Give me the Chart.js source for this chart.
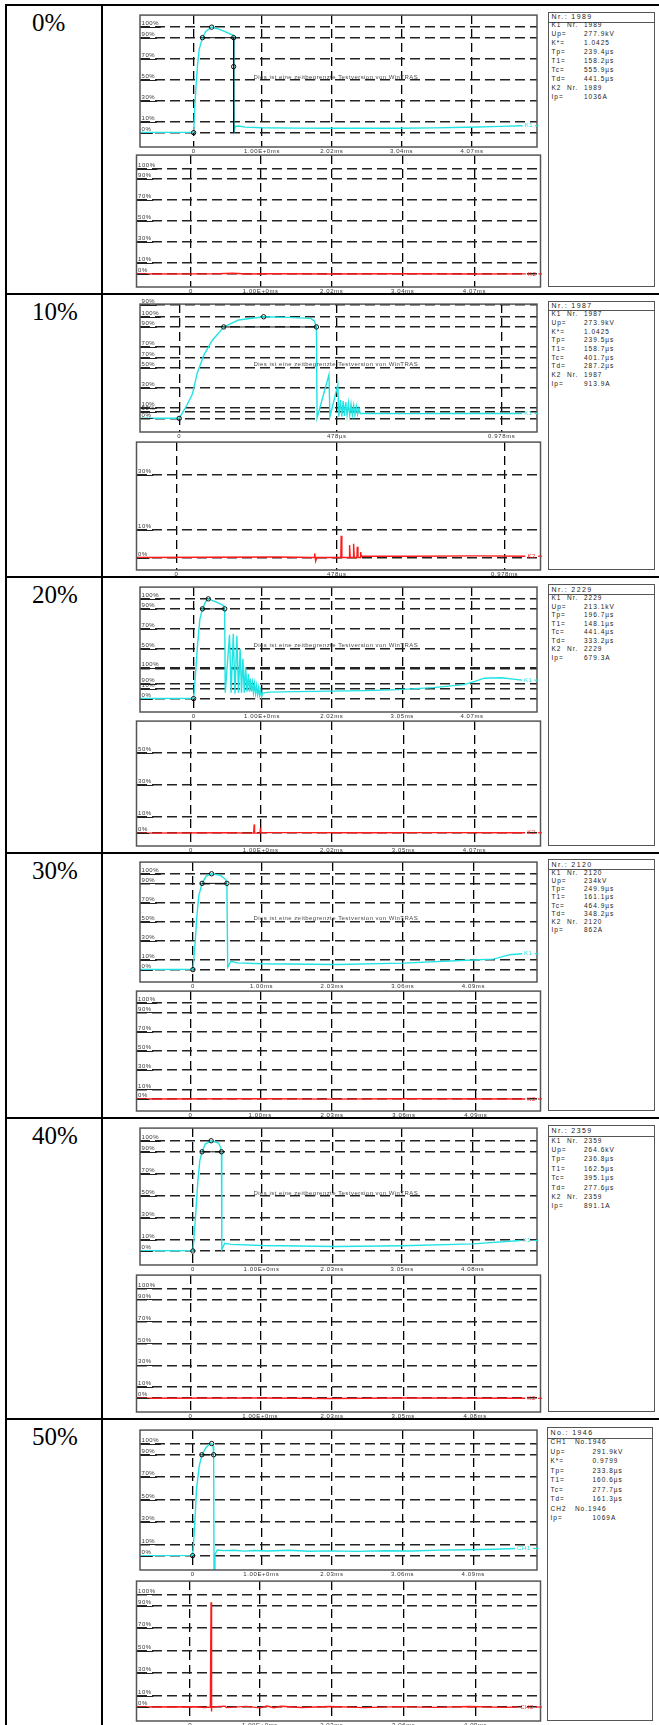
<!DOCTYPE html>
<html>
<head>
<meta charset="utf-8">
<script src="https://cdn.jsdelivr.net/npm/chart.js@4.4.0/dist/chart.umd.min.js"></script>
<style>
  @font-face { font-family: "RowSerif"; src: local("Liberation Serif"), local("LiberationSerif"), local("LiberationSerif-Regular"), local("Times New Roman"), local("DejaVu Serif"), local("DejaVuSerif"); }
  html, body { margin: 0; padding: 0; background: #fff; }
  body { width: 659px; height: 1725px; overflow: hidden; position: relative; font-family: "Liberation Sans", Arimo, Arial, Helvetica, sans-serif; }
  .hline { position: absolute; left: 5px; width: 660px; height: 2px; background: #000; }
  .vline { position: absolute; top: 4px; width: 2px; height: 1730px; background: #000; }
  .pct { position: absolute; left: 32px; font-family: "Liberation Serif", RowSerif, "Times New Roman", Tinos, Times, "DejaVu Serif", serif; font-size: 25px; line-height: 25px; color: #000; }
  .plot { position: absolute; left: 135px; }
  .box { position: absolute; border: 1px solid #555; box-sizing: border-box; color: #222; }
  .box .hd { position: absolute; left: 0; right: 0; top: 0; border-bottom: 1px solid #555; font-size: 7px; letter-spacing: 1.4px; padding-left: 2.5px; white-space: pre; }
  .box .ln { position: absolute; white-space: pre; font-size: 6.5px; letter-spacing: 1px; }
</style>
</head>
<body>
<script>
// ---- data (time in ms, level in % of the channel scale) ----
const rowNames = ['0%', '10%', '20%', '30%', '40%', '50%'];

const pctGrid = [100, 90, 70, 50, 30, 10, 0];
const pctLabels = ['100%', '90%', '70%', '50%', '30%', '10%', '0%'];

// K1 scale of row 2 and row 3 also shows the K2 grid lines bleeding through
const k1Grid1 = [111.8, 100, 90, 70, 59.7, 50, 30, 10, 6, 0];
const k1GridLabels1 = ['90%', '100%', '90%', '70%', '70%', '50%', '30%', '10%', '50%', '0%'];
const k2Grid1 = [30, 10, 0];
const k2GridLabels1 = ['30%', '10%', '0%'];
const k1Grid2 = [100, 90, 70, 50, 31, 30, 14.5, 10, 0];
const k1GridLabels2 = ['100%', '90%', '70%', '50%', '100%', '', '90%', '10%', '0%'];
const k2Grid2 = [50, 30, 10, 0];
const k2GridLabels2 = ['50%', '30%', '10%', '0%'];

const xTicks0 = [0, 1.00, 2.02, 3.04, 4.07];
const xLabels0 = ['0', '1.00E+0ms', '2.02ms', '3.04ms', '4.07ms'];
const xTicks1 = [0, 0.478, 0.978];
const xLabels1 = ['0', '478µs', '0.978ms'];
const xTicks2 = [0, 1.00, 2.02, 3.05, 4.07];
const xLabels2 = ['0', '1.00E+0ms', '2.02ms', '3.05ms', '4.07ms'];
const xTicks3 = [0, 1.00, 2.03, 3.06, 4.09];
const xLabels3 = ['0', '1.00ms', '2.03ms', '3.06ms', '4.09ms'];
const xTicks4 = [0, 1.00, 2.03, 3.05, 4.08];
const xLabels4 = ['0', '1.00E+0ms', '2.03ms', '3.05ms', '4.08ms'];
const xTicks5 = [0, 1.00, 2.03, 3.06, 4.09];
const xLabels5 = ['0', '1.00E+0ms', '2.03ms', '3.06ms', '4.09ms'];

const xRanges = [[-0.784, 5.02], [-0.119, 1.085], [-0.784, 5.02], [-0.772, 5.017], [-0.772, 5.017], [-0.768, 5.02]];
const k1Ranges = [[-13.6, 111.4], [-13.4, 112.5], [-13.4, 111.8], [-12.9, 112.2], [-12.7, 111.5], [-12.8, 112]];
const k2Ranges = [[-12.8, 113], [-4.5, 41.8], [-8.0, 69.5], [-12.5, 112.2], [-12.5, 112.2], [-12.4, 111.9]];

const k1Wave0 = [[-0.78, 0.3], [-0.3, 0.3], [0, 0.4], [0.014, 21], [0.033, 42], [0.057, 64], [0.081, 79], [0.129, 90], [0.177, 96], [0.264, 100], [0.35, 98.5], [0.45, 96], [0.585, 92], [0.588, 40], [0.592, 1.5], [0.61, 6], [0.66, 6.3], [0.75, 5.2], [1, 4.6], [1.5, 4.3], [2, 4.1], [2.5, 4.1], [3, 4.2], [3.5, 4.5], [4, 5.1], [4.5, 5.9], [4.81, 6.6]];
const k1Marks0 = [[0, 0], [0.129, 90], [0.264, 100], [0.585, 90], [0.585, 62.6]];
const k1Guide0 = [[0.129, 90], [0.585, 90], [0.585, 0]];
const k2Wave0 = [[-0.78, -0.4], [0.3, -0.3], [0.6, 0.3], [0.8, -0.4], [1.2, -0.2], [2, -0.4], [3, -0.2], [4, -0.4], [4.81, -0.3]];

const k1Wave1 = [[-0.119, 0.2], [0, 0.2], [0.02, 11], [0.04, 24], [0.055, 45], [0.075, 62.6], [0.1, 76.7], [0.135, 90], [0.18, 96.8], [0.256, 100], [0.329, 99.4], [0.399, 98.4], [0.41, 95.8], [0.416, 90], [0.418, 0.5], [0.454, 43], [0.457, 1.6], [0.481, 33], [0.484, 1.6], [0.489, 18], [0.493, 2], [0.497, 17], [0.501, 2.5], [0.505, 16], [0.509, 3], [0.513, 15], [0.517, 3], [0.521, 14], [0.525, 3.5], [0.529, 13], [0.533, 3.5], [0.537, 12], [0.541, 4], [0.545, 10], [0.549, 4.8], [0.6, 4.8], [0.7, 4.7], [0.8, 4.8], [0.9, 4.8], [1.04, 4.8]];
const k1Marks1 = [[0, 0], [0.135, 90], [0.256, 100], [0.416, 90]];
const k1Guide1 = [[0.135, 90], [0.416, 90]];
const k2Wave1 = [[-0.119, 0], [0.3, 0.2], [0.41, 0], [0.412, 1.5], [0.415, -1.2], [0.418, 0], [0.49, 0], [0.491, 7.9], [0.493, 0], [0.515, 0], [0.516, 4.5], [0.518, 0], [0.527, 0], [0.528, 5], [0.53, 0], [0.538, 0], [0.539, 3.9], [0.541, 0], [0.548, 0], [0.549, 2], [0.551, 0.5], [0.7, 0.5], [0.9, 0.6], [1.04, 0.5]];

const k1Wave2 = [[-0.78, 0.2], [0, 0.3], [0.024, 21], [0.057, 53.6], [0.091, 79.5], [0.129, 90], [0.177, 97.4], [0.215, 100], [0.368, 95.8], [0.44, 93.2], [0.454, 90], [0.462, 6], [0.525, 64], [0.548, 6], [0.58, 65], [0.605, 5], [0.632, 63], [0.656, 6], [0.68, 50], [0.7, 6], [0.72, 40], [0.74, 6], [0.76, 32], [0.78, 7], [0.8, 25], [0.815, 7], [0.83, 20], [0.845, 7], [0.86, 16], [0.875, 6], [0.89, 15], [0.905, 5], [0.92, 13], [0.935, 4], [0.95, 11], [0.965, 3], [0.98, 9], [0.995, 2], [1.01, 5.5], [1.1, 6.5], [1.5, 7], [2, 7.5], [2.5, 8], [3, 9], [3.5, 11], [3.95, 14], [4.1, 17], [4.25, 20.5], [4.5, 21], [4.8, 18.5]];
const k1Marks2 = [[0, 0], [0.129, 90], [0.215, 100], [0.454, 90]];
const k1Guide2 = [[0.129, 90], [0.454, 90]];
const k2Wave2 = [[-0.78, 0], [0.5, 0.2], [0.9, 0], [0.907, 5.4], [0.912, 0], [0.99, 0], [0.997, 3.3], [1.002, 0.4], [1.5, 0.3], [2.5, 0.2], [3.5, 0.3], [4.8, 0.2]];

const k1Wave3 = [[-0.78, 0.2], [0, 0.3], [0.03, 26], [0.055, 53.6], [0.085, 77], [0.133, 90], [0.193, 97.6], [0.272, 100], [0.404, 98.3], [0.477, 94], [0.495, 90], [0.507, 2.7], [0.555, 8.8], [0.645, 7], [1.007, 6.1], [2.09, 5.4], [3.06, 6.8], [4.08, 10], [4.38, 11], [4.62, 15.6], [4.8, 16.6]];
const k1Marks3 = [[0, 0], [0.133, 90], [0.272, 100], [0.495, 90]];
const k1Guide3 = [[0.133, 90], [0.495, 90]];
const k2Wave3 = [[-0.78, 0], [1, 0.2], [2, -0.2], [3, 0.2], [4.8, 0]];

const k1Wave4 = [[-0.78, 0.2], [0, 0.3], [0.03, 24], [0.07, 62], [0.1, 82], [0.133, 90], [0.18, 97], [0.265, 100], [0.374, 98], [0.404, 94], [0.416, 90], [0.421, 1.2], [0.464, 7], [0.555, 6], [1.007, 5], [2.09, 4.1], [3.06, 4.7], [4.08, 6.5], [4.78, 9.5]];
const k1Marks4 = [[0, 0], [0.133, 90], [0.265, 100], [0.416, 90]];
const k1Guide4 = [[0.133, 90], [0.416, 90]];
const k2Wave4 = [[-0.78, 0], [1, 0.2], [2, -0.2], [3, 0.2], [4.8, 0]];

const k1Wave5 = [[-0.78, 0], [0, 0.2], [0.024, 22], [0.057, 60], [0.096, 80], [0.134, 90], [0.191, 96], [0.249, 99.7], [0.277, 100], [0.297, 97.7], [0.306, 90], [0.311, -14], [0.325, 1], [0.359, 5], [0.45, 4.5], [0.6, 4.8], [0.75, 4], [0.9, 4.6], [1.1, 4.2], [1.4, 4.8], [1.7, 3.9], [2.0, 4.3], [2.4, 3.8], [2.8, 4.4], [3.2, 4.1], [3.6, 4.9], [4.0, 5.2], [4.4, 5.7], [4.7, 6.4]];
const k1Marks5 = [[0, 0], [0.134, 90], [0.277, 100], [0.306, 90]];
const k1Guide5 = [[0.134, 90], [0.306, 90]];
const k2Wave5 = [[-0.78, 0], [0.1, 0.3], [0.2, -0.4], [0.29, 0], [0.3, 93], [0.305, -4], [0.31, 0], [0.5, 0.8], [0.52, -0.5], [0.8, 0.6], [1.0, -0.7], [1.1, 0.9], [1.2, -0.6], [1.3, 0.7], [1.6, -0.4], [2.0, 0.5], [2.5, -0.5], [3.0, 0.4], [3.5, -0.3], [4.0, 0.5], [4.5, -0.3], [4.7, 0]];

const boxTitles = ['Nr.: 1989', 'Nr.: 1987', 'Nr.: 2229', 'Nr.: 2120', 'Nr.: 2359', 'No.: 1946'];
const boxKeysA = ['K1  Nr.', 'Up=', 'K*=', 'Tp=', 'T1=', 'Tc=', 'Td=', 'K2  Nr.', 'Ip='];
const boxKeysB = ['K1  Nr.', 'Up=', 'Tp=', 'T1=', 'Tc=', 'Td=', 'K2  Nr.', 'Ip='];
const boxKeysC = ['CH1   No.1946', 'Up=', 'K*=', 'Tp=', 'T1=', 'Tc=', 'Td=', 'CH2   No.1946', 'Ip='];
const boxVals0 = ['1989', '277.9kV', '1.0425', '239.4µs', '158.2µs', '555.9µs', '441.5µs', '1989', '1036A'];
const boxVals1 = ['1987', '273.9kV', '1.0425', '239.5µs', '158.7µs', '401.7µs', '287.2µs', '1987', '913.9A'];
const boxVals2 = ['2229', '213.1kV', '196.7µs', '148.1µs', '441.4µs', '333.2µs', '2229', '679.3A'];
const boxVals3 = ['2120', '234kV', '249.9µs', '161.1µs', '464.9µs', '348.2µs', '2120', '862A'];
const boxVals4 = ['2359', '264.6kV', '236.8µs', '162.5µs', '395.1µs', '277.6µs', '2359', '891.1A'];
const boxVals5 = ['', '291.9kV', '0.9799', '233.8µs', '160.6µs', '277.7µs', '161.3µs', '', '1069A'];

const watermark = 'Dies ist eine zeitbegrenzte Testversion von WinTRAS';

// ---- layout ----
const rowTop = [5, 294, 577, 853, 1118, 1419];
const frameK1 = [[12, 147], [301, 432], [584, 712], [859, 982], [1125, 1265], [1427, 1570]];
const frameK2 = [[152, 287], [439, 570], [718, 846], [988, 1111], [1272, 1412], [1578, 1721]];
const boxFmt = [
  { top: 12, bottom: 287, left: 548, w: 107, hd: 8.7, first: 13.9, lh: 8.95, val: 35 },
  { top: 301, bottom: 570, left: 548, w: 107, hd: 8.3, first: 13.8, lh: 8.66, val: 35 },
  { top: 584, bottom: 846, left: 548, w: 107, hd: 9.3, first: 14.6, lh: 8.5, val: 35 },
  { top: 859, bottom: 1111, left: 548, w: 107, hd: 9, first: 13.9, lh: 8.2, val: 35 },
  { top: 1125, bottom: 1412, left: 548, w: 107, hd: 9.5, first: 15.2, lh: 9.4, val: 35 },
  { top: 1427, bottom: 1721, left: 547, w: 106, hd: 9.7, first: 15.2, lh: 9.5, val: 44.5 }
];

const CYAN = '#22e3e3';
const RED = '#ff1a1a';
const SANS = '"Liberation Sans", Arimo, Arial, Helvetica, sans-serif';
Chart.defaults.font.family = SANS;

const toXY = pts => pts.map(p => ({ x: p[0], y: p[1] }));

const scopePlugin = {
  id: 'scope',
  beforeDraw(chart) {
    chart.ctx.letterSpacing = '0.6px';
  },
  afterDraw(chart, args, opts) {
    const { ctx, chartArea: a, scales } = chart;
    ctx.save();
    ctx.setLineDash([]);
    ctx.font = '6px ' + SANS;
    ctx.letterSpacing = '0.6px';
    // solid underline below each level label
    ctx.strokeStyle = '#222';
    ctx.lineWidth = 1;
    scales.y.ticks.forEach((t, i) => {
      const lab = opts.yLabels[i];
      if (!lab) return;
      const y = Math.round(scales.y.getPixelForValue(t.value)) + 0.5;
      ctx.beginPath();
      ctx.moveTo(a.left, y);
      ctx.lineTo(a.left + ctx.measureText(lab).width + 3, y);
      ctx.stroke();
    });
    // plot frame
    ctx.strokeStyle = '#555';
    ctx.lineWidth = 1.5;
    ctx.strokeRect(a.left, a.top, a.right - a.left, a.bottom - a.top);
    // demo watermark
    if (opts.mark) {
      ctx.fillStyle = '#4a4a4a';
      ctx.letterSpacing = '0.45px';
      ctx.textBaseline = 'middle';
      ctx.textAlign = 'left';
      ctx.fillText(watermark, a.left + 113.5, scales.y.getPixelForValue(50) - 3);
    }
    // channel tag at the end of the trace
    const meta = chart.getDatasetMeta(2);
    const p = meta.data[meta.data.length - 1];
    if (p) {
      ctx.letterSpacing = '0.6px';
      ctx.fillStyle = opts.color;
      ctx.textBaseline = 'middle';
      ctx.textAlign = 'left';
      ctx.fillText(opts.tag, p.x + 2, p.y);
      const w = ctx.measureText(opts.tag).width;
      ctx.strokeStyle = opts.color;
      ctx.lineWidth = 1.2;
      ctx.beginPath();
      ctx.moveTo(p.x + w + 4, p.y);
      ctx.lineTo(a.right + 1.5, p.y);
      ctx.stroke();
    }
    ctx.restore();
  }
};

function addScope(frame, cfg) {
  const h = frame[1] - frame[0] + 2 + 7;
  const c = document.createElement('canvas');
  c.className = 'plot';
  c.width = 407;
  c.height = h;
  c.style.top = (frame[0] - 2) + 'px';
  c.style.width = '407px';
  c.style.height = h + 'px';
  document.body.appendChild(c);

  return new Chart(c, {
    type: 'line',
    data: {
      datasets: [
        { data: toXY(cfg.marks || []), showLine: false, pointRadius: 2.2, pointBorderWidth: 1,
          pointBorderColor: '#111', pointBackgroundColor: 'rgba(0,0,0,0)' },
        { data: toXY(cfg.guide || []), borderColor: '#111', borderWidth: 1, pointRadius: 0 },
        { data: toXY(cfg.wave), borderColor: cfg.color, borderWidth: 1.4, pointRadius: 0 }
      ]
    },
    options: {
      animation: false,
      responsive: false,
      layout: { padding: { left: 1.5, right: 1.5, top: 2, bottom: 0 } },
      plugins: {
        legend: { display: false },
        tooltip: { enabled: false },
        scope: { yLabels: cfg.yLabels, mark: cfg.mark, tag: cfg.tag, color: cfg.color }
      },
      scales: {
        x: {
          type: 'linear',
          min: cfg.xRange[0], max: cfg.xRange[1],
          afterBuildTicks: s => { s.ticks = cfg.xTicks.map(v => ({ value: v })); },
          afterFit: s => { s.height = 7; },
          grid: { color: '#000', lineWidth: 1.3, drawTicks: false },
          border: { display: false, dash: [9, 5] },
          ticks: { autoSkip: false, maxRotation: 0, padding: 1, color: '#333', font: { size: 6 },
                   callback: (v, i) => cfg.xLabels[i] }
        },
        y: {
          type: 'linear',
          min: cfg.yRange[0], max: cfg.yRange[1],
          afterBuildTicks: s => { s.ticks = cfg.yGrid.map(v => ({ value: v })); },
          afterFit: s => { s.width = 0; },
          grid: { color: '#222', lineWidth: 1.6, drawTicks: false },
          border: { display: false, dash: [10, 5] },
          ticks: { autoSkip: false, mirror: true, padding: 1.5, labelOffset: -3.5, color: '#333',
                   font: { size: 6 }, callback: (v, i) => cfg.yLabels[i] }
        }
      }
    },
    plugins: [scopePlugin]
  });
}

// ---- table frame ----
function addDiv(cls, style, text) {
  const d = document.createElement('div');
  d.className = cls;
  Object.assign(d.style, style);
  if (text !== undefined) d.textContent = text;
  document.body.appendChild(d);
  return d;
}
addDiv('vline', { left: '5px' });
addDiv('vline', { left: '101px' });
rowTop.forEach(t => addDiv('hline', { top: (t - 1) + 'px' }));
rowNames.forEach((n, i) => addDiv('pct', { top: (rowTop[i] + 5) + 'px' }, n));

// ---- parameter boxes ----
const boxKeys = [boxKeysA, boxKeysA, boxKeysB, boxKeysB, boxKeysB, boxKeysC];
const boxVals = [boxVals0, boxVals1, boxVals2, boxVals3, boxVals4, boxVals5];
boxFmt.forEach((f, i) => {
  const b = addDiv('box', { left: f.left + 'px', top: f.top + 'px', width: f.w + 'px', height: (f.bottom - f.top) + 'px' });
  const hd = document.createElement('div');
  hd.className = 'hd';
  hd.style.height = f.hd + 'px';
  hd.style.lineHeight = f.hd + 'px';
  hd.textContent = boxTitles[i];
  b.appendChild(hd);
  boxKeys[i].forEach((k, j) => {
    const y = f.first - f.lh / 2 + j * f.lh - 1;
    const kd = document.createElement('div');
    kd.className = 'ln';
    Object.assign(kd.style, { left: '2.5px', top: y + 'px', lineHeight: f.lh + 'px' });
    kd.textContent = k;
    b.appendChild(kd);
    const vd = document.createElement('div');
    vd.className = 'ln';
    Object.assign(vd.style, { left: f.val + 'px', top: y + 'px', lineHeight: f.lh + 'px' });
    vd.textContent = boxVals[i][j];
    b.appendChild(vd);
  });
});

// ---- scopes ----
const k1Waves = [k1Wave0, k1Wave1, k1Wave2, k1Wave3, k1Wave4, k1Wave5];
const k1Marks = [k1Marks0, k1Marks1, k1Marks2, k1Marks3, k1Marks4, k1Marks5];
const k1Guides = [k1Guide0, k1Guide1, k1Guide2, k1Guide3, k1Guide4, k1Guide5];
const k2Waves = [k2Wave0, k2Wave1, k2Wave2, k2Wave3, k2Wave4, k2Wave5];
const xTicks = [xTicks0, xTicks1, xTicks2, xTicks3, xTicks4, xTicks5];
const xLabels = [xLabels0, xLabels1, xLabels2, xLabels3, xLabels4, xLabels5];
const k1Grids = [pctGrid, k1Grid1, k1Grid2, pctGrid, pctGrid, pctGrid];
const k1GridLabels = [pctLabels, k1GridLabels1, k1GridLabels2, pctLabels, pctLabels, pctLabels];
const k2Grids = [pctGrid, k2Grid1, k2Grid2, pctGrid, pctGrid, pctGrid];
const k2GridLabels = [pctLabels, k2GridLabels1, k2GridLabels2, pctLabels, pctLabels, pctLabels];

for (let i = 0; i < 6; i++) {
  addScope(frameK1[i], {
    wave: k1Waves[i], marks: k1Marks[i], guide: k1Guides[i], color: CYAN,
    xRange: xRanges[i], xTicks: xTicks[i], xLabels: xLabels[i],
    yRange: k1Ranges[i], yGrid: k1Grids[i], yLabels: k1GridLabels[i],
    mark: i < 5, tag: i < 5 ? 'K1' : 'CH1'
  });
  addScope(frameK2[i], {
    wave: k2Waves[i], color: RED,
    xRange: xRanges[i], xTicks: xTicks[i], xLabels: xLabels[i],
    yRange: k2Ranges[i], yGrid: k2Grids[i], yLabels: k2GridLabels[i],
    mark: false, tag: i < 5 ? 'K2' : 'CH2'
  });
}
</script>
</body>
</html>
